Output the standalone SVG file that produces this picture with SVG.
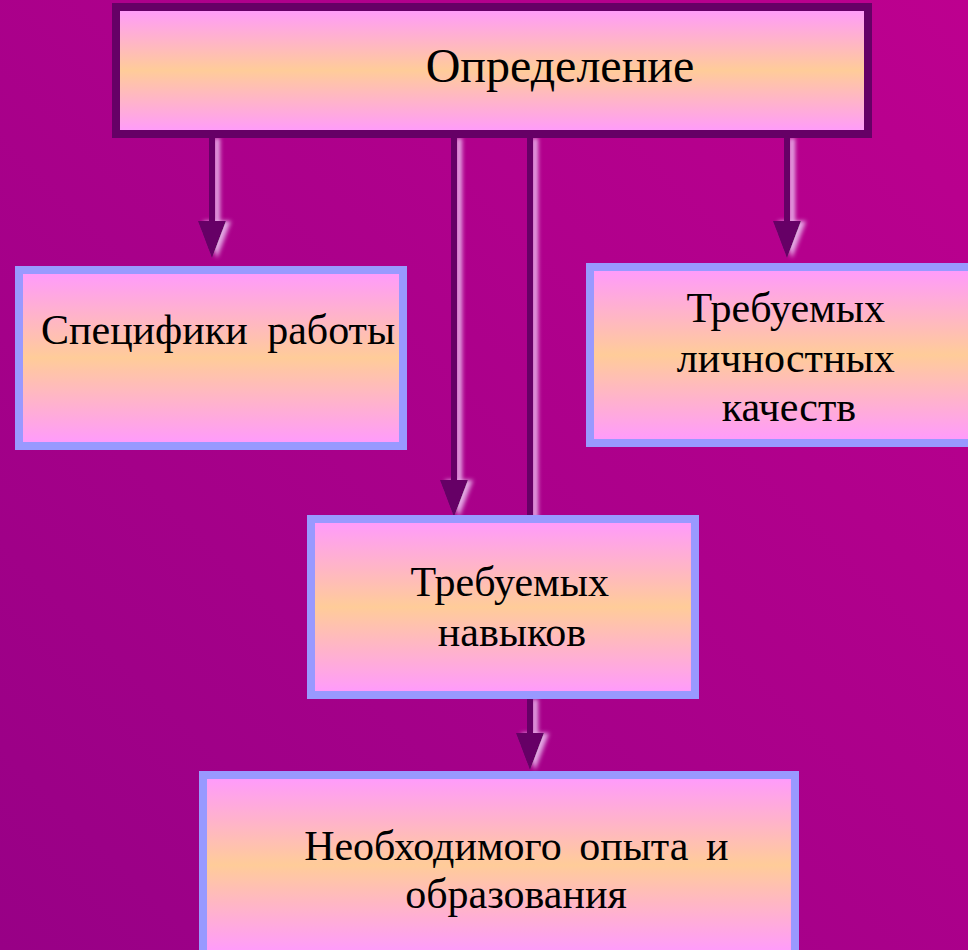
<svg xmlns="http://www.w3.org/2000/svg" width="968" height="950" viewBox="0 0 968 950">
  <defs>
    <linearGradient id="bg" x1="1" y1="0" x2="0" y2="1">
      <stop offset="0" stop-color="#bd008f"/>
      <stop offset="1" stop-color="#980086"/>
    </linearGradient>
    <linearGradient id="boxfill" x1="0" y1="0" x2="0" y2="1">
      <stop offset="0" stop-color="#ff99ff"/>
      <stop offset="0.5" stop-color="#ffcc99"/>
      <stop offset="1" stop-color="#ff99ff"/>
    </linearGradient>
    <marker id="arrow" markerUnits="userSpaceOnUse" markerWidth="40" markerHeight="30" refX="0" refY="14" orient="auto" viewBox="0 0 40 30">
      <path d="M0,0 L37,14 L0,28 z" fill="#660066"/>
    </marker>
    <filter id="glow" x="-50%" y="-10%" width="250%" height="130%">
      <feOffset in="SourceAlpha" dx="5" dy="0" result="off"/>
      <feGaussianBlur in="off" stdDeviation="2.2" result="blur"/>
      <feFlood flood-color="#eec4f4" flood-opacity="0.85"/>
      <feComposite in2="blur" operator="in" result="glowc"/>
      <feMerge>
        <feMergeNode in="glowc"/>
        <feMergeNode in="SourceGraphic"/>
      </feMerge>
    </filter>
  </defs>
  <style>
    .conn { stroke: #660066; stroke-width: 6; fill: none; }
    .box { fill: url(#boxfill); stroke: #9999ff; stroke-width: 8; }
    .top { fill: url(#boxfill); stroke: #660066; stroke-width: 8; }
    .lbl { font-family: "Liberation Serif", "Times New Roman", serif; font-size: 42px; fill: #000000; }
    .big { font-size: 48px; }
  </style>

  <rect x="0" y="0" width="968" height="950" fill="url(#bg)"/>

  <g id="connectors" filter="url(#glow)">
    <path class="conn" d="M212,138 L212,221" marker-end="url(#arrow)"/>
    <path class="conn" d="M454,138 L454,480" marker-end="url(#arrow)"/>
    <path class="conn" d="M530,138 L530,519"/>
    <path class="conn" d="M530,699 L530,733" marker-end="url(#arrow)"/>
    <path class="conn" d="M787,138 L787,221" marker-end="url(#arrow)"/>
  </g>

  <g id="node-definition">
    <rect class="top" x="116" y="7" width="752" height="127"/>
    <text class="lbl big" x="560" y="82" text-anchor="middle">Определение</text>
  </g>

  <g id="node-specifics">
    <rect class="box" x="19" y="270" width="384" height="176"/>
    <text class="lbl" x="41" y="344" word-spacing="9">Специфики работы</text>
  </g>

  <g id="node-qualities">
    <rect class="box" x="590" y="267" width="390" height="176"/>
    <text class="lbl" text-anchor="middle">
      <tspan x="791" y="322">Требуемых</tspan>
      <tspan x="791" y="372">личностных</tspan>
      <tspan x="789" y="421">качеств</tspan>
    </text>
  </g>

  <g id="node-skills">
    <rect class="box" x="311" y="519" width="384" height="176"/>
    <text class="lbl" text-anchor="middle">
      <tspan x="515" y="596">Требуемых</tspan>
      <tspan x="512" y="646">навыков</tspan>
    </text>
  </g>

  <g id="node-experience">
    <rect class="box" x="203" y="775" width="592" height="180"/>
    <text class="lbl" text-anchor="middle" word-spacing="7">
      <tspan x="525" y="860">Необходимого опыта и</tspan>
      <tspan x="516" y="908">образования</tspan>
    </text>
  </g>
</svg>
